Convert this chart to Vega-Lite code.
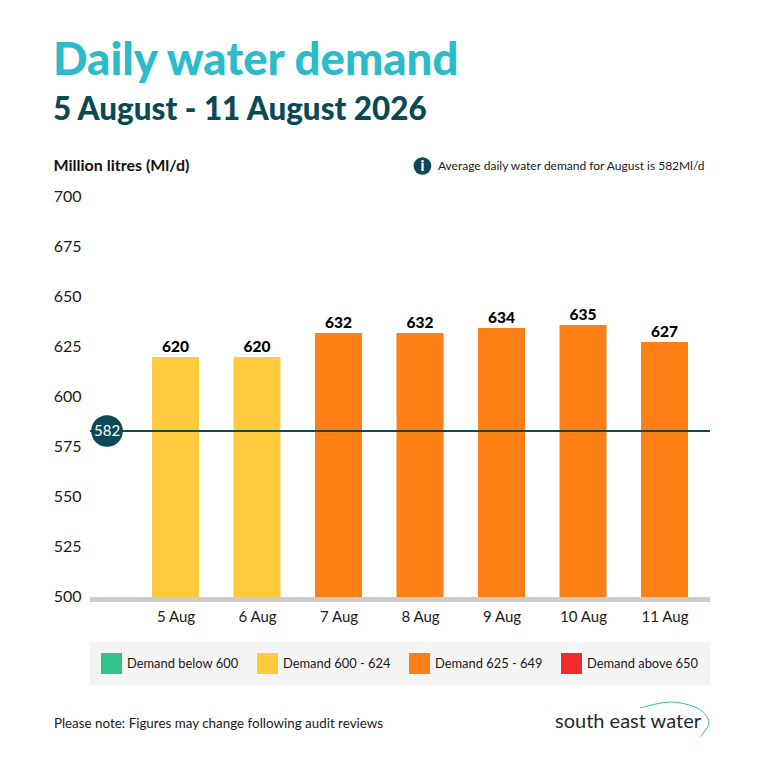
{
  "$schema": "https://vega.github.io/schema/vega-lite/v6.json",
  "description": "Daily water demand, 5 to 11 August 2026",
  "width": 620,
  "height": 400,
  "autosize": "none",
  "padding": {"left": 90, "top": 197, "right": 58, "bottom": 171},
  "background": "white",
  "view": {"stroke": null},
  "title": {
    "text": "Daily water demand",
    "subtitle": "5 August - 11 August 2026",
    "anchor": "start",
    "frame": "group",
    "dx": -37,
    "offset": 31,
    "font": "Lato",
    "fontSize": 45.5,
    "fontWeight": 900,
    "color": "#2bbbcb",
    "subtitleFont": "Lato",
    "subtitleFontSize": 31.4,
    "subtitleFontWeight": 900,
    "subtitleColor": "#0a4a55",
    "subtitlePadding": 10
  },
  "layer": [
    {
      "data": {
        "values": [
          {"day": 5, "demand": 620, "drawn": 620, "band": "Demand 600 - 624"},
          {"day": 6, "demand": 620, "drawn": 620, "band": "Demand 600 - 624"},
          {"day": 7, "demand": 632, "drawn": 632, "band": "Demand 625 - 649"},
          {"day": 8, "demand": 632, "drawn": 632, "band": "Demand 625 - 649"},
          {"day": 9, "demand": 634, "drawn": 634.5, "band": "Demand 625 - 649"},
          {"day": 10, "demand": 635, "drawn": 636, "band": "Demand 625 - 649"},
          {"day": 11, "demand": 627, "drawn": 627.5, "band": "Demand 625 - 649"}
        ]
      },
      "encoding": {
        "x": {
          "field": "day",
          "type": "quantitative",
          "scale": {"domain": [3.951, 11.558], "nice": false, "zero": false, "padding": 0},
          "axis": {
            "title": null,
            "values": [5, 6, 7, 8, 9, 10, 11],
            "labelExpr": "datum.value + ' Aug'",
            "domain": false,
            "ticks": false,
            "grid": false,
            "labelFont": "Lato",
            "labelFontSize": 15,
            "labelColor": "#1a1a1a",
            "labelPadding": 12
          }
        },
        "y": {
          "field": "drawn",
          "type": "quantitative",
          "scale": {"domain": [500, 700], "nice": false, "zero": false},
          "axis": {
            "title": "Million litres (Ml/d)",
            "titleAngle": 0,
            "titleAlign": "left",
            "titleBaseline": "middle",
            "titleX": -37,
            "titleY": -32,
            "titleFont": "Lato",
            "titleFontSize": 16,
            "titleFontWeight": 700,
            "titleColor": "#111111",
            "values": [500, 525, 550, 575, 600, 625, 650, 675, 700],
            "domain": false,
            "ticks": false,
            "grid": false,
            "labelFont": "Lato",
            "labelFontSize": 16,
            "labelColor": "#1a1a1a",
            "labelPadding": 9,
            "labelOffset": -1
          }
        }
      },
      "layer": [
        {
          "mark": {"type": "bar", "size": 47},
          "encoding": {
            "y2": {"datum": 500},
            "color": {
              "field": "band",
              "type": "nominal",
              "scale": {
                "domain": ["Demand below 600", "Demand 600 - 624", "Demand 625 - 649", "Demand above 650"],
                "range": ["#35c18d", "#ffcb3d", "#ff7f17", "#f12b2d"]
              },
              "legend": {
                "title": null,
                "orient": "none",
                "legendX": 0,
                "legendY": 445,
                "direction": "horizontal",
                "columns": 4,
                "columnPadding": 18,
                "padding": 11,
                "fillColor": "#f5f5f5",
                "symbolType": "square",
                "symbolSize": 441,
                "symbolStrokeWidth": 0,
                "labelFont": "Lato",
                "labelFontSize": 12.9,
                "labelColor": "#1a1a1a",
                "labelOffset": 5
              }
            }
          }
        },
        {
          "mark": {"type": "text", "baseline": "bottom", "dy": -2, "font": "Lato", "fontSize": 15.5, "fontWeight": 900, "color": "#000000"},
          "encoding": {
            "text": {"field": "demand", "type": "quantitative"}
          }
        }
      ]
    },
    {
      "data": {"values": [{"level": 500}]},
      "mark": {"type": "rule", "stroke": "#cccccc", "strokeWidth": 5, "yOffset": 2.5},
      "encoding": {
        "y": {"field": "level", "type": "quantitative"}
      }
    },
    {
      "data": {"values": [{"average": 582}]},
      "mark": {"type": "rule", "stroke": "#0a4a55", "strokeWidth": 2, "yOffset": -2},
      "encoding": {
        "y": {"field": "average", "type": "quantitative"}
      }
    },
    {
      "data": {"values": [{"average": 582}]},
      "mark": {"type": "point", "shape": "circle", "filled": true, "size": 1000, "opacity": 1, "color": "#0a4a55", "yOffset": -2},
      "encoding": {
        "x": {"datum": 4.16},
        "y": {"field": "average", "type": "quantitative"}
      }
    },
    {
      "data": {"values": [{"average": 582}]},
      "mark": {"type": "text", "font": "Lato", "fontSize": 15, "color": "#ffffff", "yOffset": -2},
      "encoding": {
        "x": {"datum": 4.16},
        "y": {"field": "average", "type": "quantitative"},
        "text": {"field": "average", "type": "quantitative"}
      }
    },
    {
      "data": {"values": [{"note": "Average daily water demand for August is 582Ml/d"}]},
      "mark": {"type": "text", "align": "left", "font": "Lato", "fontSize": 12, "color": "#1a1a1a"},
      "encoding": {
        "x": {"datum": 8.22},
        "y": {"datum": 715.5},
        "text": {"field": "note"}
      }
    },
    {
      "data": {"values": [{"note": "i"}]},
      "mark": {"type": "point", "shape": "circle", "filled": true, "size": 314, "opacity": 1, "color": "#0a4a55"},
      "encoding": {
        "x": {"datum": 8.03},
        "y": {"datum": 715.5}
      }
    },
    {
      "data": {"values": [{"note": "i"}]},
      "mark": {"type": "text", "font": "Lato", "fontSize": 15, "fontWeight": 900, "color": "#ffffff"},
      "encoding": {
        "x": {"datum": 8.03},
        "y": {"datum": 715.5},
        "text": {"field": "note"}
      }
    },
    {
      "data": {"values": [{"note": "Please note: Figures may change following audit reviews"}]},
      "mark": {"type": "text", "align": "left", "font": "Lato", "fontSize": 13.4, "color": "#1a1a1a"},
      "encoding": {
        "x": {"datum": 3.508},
        "y": {"datum": 436.5},
        "text": {"field": "note"}
      }
    },
    {
      "data": {"values": [{"note": "south east water"}]},
      "mark": {"type": "text", "align": "left", "font": "Lato", "fontSize": 20, "color": "#1f2a30"},
      "encoding": {
        "x": {"datum": 9.656},
        "y": {"datum": 437.5},
        "text": {"field": "note"}
      }
    },
    {
      "data": {
        "values": [
          {"seq": 1, "day": 10.699, "level": 444.5},
          {"seq": 2, "day": 11.067, "level": 447.5},
          {"seq": 3, "day": 11.399, "level": 444.5},
          {"seq": 4, "day": 11.546, "level": 437.5},
          {"seq": 5, "day": 11.436, "level": 430}
        ]
      },
      "mark": {"type": "line", "interpolate": "cardinal", "stroke": "#2bbbcb", "strokeWidth": 1},
      "encoding": {
        "x": {"field": "day", "type": "quantitative"},
        "y": {"field": "level", "type": "quantitative"},
        "order": {"field": "seq", "type": "ordinal"}
      }
    }
  ]
}
